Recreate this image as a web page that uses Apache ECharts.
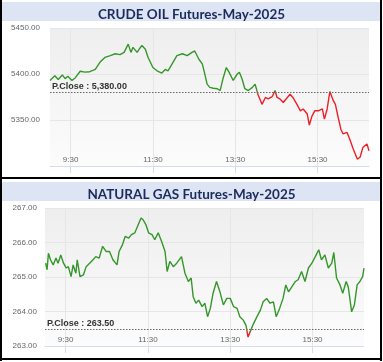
<!DOCTYPE html>
<html><head><meta charset="utf-8">
<script src="https://cdn.jsdelivr.net/npm/echarts@6/dist/echarts.min.js"></script>
<style>html,body{margin:0;padding:0;background:#fff}#c{width:383px;height:362px}</style>
</head><body><div id="c"></div><script>
// ---- data (x = minutes after 09:00) ----
const crudeTitle = 'CRUDE OIL Futures-May-2025';
const gasTitle = 'NATURAL GAS Futures-May-2025';
const crudeTimes = [0,7,12,18,22,26,32,37,44,51,58,66,73,80,88,95,102,108,114,118,121,127,130,134,139,143,150,156,163,168,172,178,185,193,200,207,211,217,222,225,229,233,238,244,248,252,257,261,267,273,276,280,284,289,295,299,303,309,314,318,324,328,331,335,340,346,350,354,360,365,369,375,378,382,386,391,397,400,404,408,413,416,420,424,427,433,437,442,448,452,456,462,465];
const crudeValues = [5393,5398,5394,5399,5395,5397.5,5393,5396,5403,5402,5402.5,5405,5413,5418,5420,5422,5421,5423.5,5432.5,5423.5,5429,5423.5,5427,5431,5427,5418,5407,5403.5,5401,5405,5403.5,5411,5420,5422,5420,5423.5,5425,5416,5411,5402,5389,5385.5,5384.5,5384,5382,5394.5,5407,5402,5393,5400,5402,5394.5,5384,5382,5385.5,5389,5378,5367,5374.5,5373,5375.5,5382,5374.5,5373,5369,5374.5,5378,5374.5,5367,5360,5362,5356.5,5344.5,5354.5,5360,5360,5362,5351,5362,5381,5371,5367,5353,5340,5335,5336.5,5329,5318.5,5307.5,5309.5,5320,5324,5316.5];
const gasTimes = [1,3,5,8,12,16,19,23,27,31,34,38,41,45,47,51,56,60,65,70,74,79,84,89,94,99,105,108,113,117,122,126,131,136,140,143,147,151,156,160,165,170,175,178,182,187,192,199,204,209,213,216,220,224,229,233,237,241,245,250,255,260,265,270,275,280,284,289,293,296,300,304,309,314,318,323,328,333,337,342,347,351,355,360,365,369,374,379,384,389,394,399,403,408,413,418,421,425,430,434,439,442,447,451,455,459,463,465];
const gasValues = [265.40,265.21,265.69,265.50,265.35,265.55,265.40,265.64,265.40,265.26,265.30,265.01,265.35,265.11,265.50,265.01,265.06,265.30,265.40,265.50,265.59,265.55,265.89,265.74,265.74,265.50,265.35,265.74,265.94,266.18,266.13,266.23,266.28,266.52,266.71,266.66,266.52,266.28,266.23,266.08,266.28,266.03,265.74,265.16,265.45,265.30,265.40,265.59,265.11,264.87,264.97,264.43,264.24,264.33,264.14,264.24,263.85,264.09,264.53,264.87,264.57,264.19,264.38,264.38,264.14,264.09,263.85,263.75,263.60,263.26,263.46,263.65,263.85,264.04,264.28,264.38,264.24,264.28,263.85,264.09,264.38,264.77,264.57,264.72,264.87,264.92,265.16,264.87,265.26,265.40,265.59,265.79,265.50,265.64,265.26,265.40,265.71,264.97,264.77,264.53,264.87,264.72,263.99,264.19,264.77,264.87,265.01,265.26];
const timeTickMinutes = [30,150,270,390];
const timeTickLabels = ['9:30','11:30','13:30','15:30'];
const crudePrevClose = 5380;
const gasPrevClose = 263.5;
const crudeAxis = {min:5300, max:5450, interval:50};
const gasAxis = {min:263, max:267, interval:1};

// ---- styles ----
const GREEN = '#35962a', RED = '#ec1f28';
const labelFont = '"Liberation Sans", Arial, sans-serif';
function pairs(xs, ys){ return xs.map((x,i)=>[x, ys[i]]); }
function fmtNum(v){ return v.toFixed(2).replace(/\B(?=(\d{3})+(?!\d))/g, ','); }
// colour split at the previous close, relative to the line's own bounding box
function splitColor(ys, pc){
  const hi = Math.max.apply(null, ys), lo = Math.min.apply(null, ys);
  const o = Math.min(1, Math.max(0, (hi - pc) / (hi - lo)));
  return new echarts.graphic.LinearGradient(0,0,0,1,[
    {offset:0,color:GREEN},{offset:o,color:GREEN},{offset:o,color:RED},{offset:1,color:RED}]);
}

const bgGrad = new echarts.graphic.LinearGradient(0,0,0,1,[{offset:0,color:'#eeeeee'},{offset:1,color:'#fcfcfc'}]);

function makeGrid(left, top){
  return {left:left, top:top, width:319, height:138, show:true, backgroundColor:bgGrad, borderWidth:0, outerBoundsMode:'none', containLabel:false};
}
function makeX(gi){
  return {
    type:'value', gridIndex:gi, min:0, max:465,
    axisLine:{show:true, lineStyle:{color:'#d5dde9', width:1}},
    axisTick:{show:true, customValues:timeTickMinutes, inside:false, length:7, lineStyle:{color:'#d5dde9'}},
    axisLabel:{customValues:timeTickMinutes, inside:true, margin:2, fontSize:8, color:'#666', fontFamily:labelFont,
      formatter:(v)=>{ const i = timeTickMinutes.indexOf(Math.round(v)); return i>=0 ? timeTickLabels[i] : ''; }},
    splitLine:{show:true, lineStyle:{color:'#e6e6e6', width:1}}
  };
}
function makeY(gi, ax, showMin){
  return {
    type:'value', gridIndex:gi, min:ax.min, max:ax.max, interval:ax.interval,
    axisLine:{show:false}, axisTick:{show:false},
    axisLabel:{fontSize:8, color:'#666', fontFamily:labelFont, margin: gi===0?10:8, showMinLabel:showMin,
      formatter:(v)=> (showMin || v!==ax.min) ? v.toFixed(2) : ''},
    splitLine:{show:true, lineStyle:{color:'#e6e6e6', width:1}}
  };
}
function makeSeries(gi, xs, ys, pc){
  return {
    type:'line', xAxisIndex:gi, yAxisIndex:gi, data:pairs(xs, ys), showSymbol:false, symbol:'none',
    lineStyle:{width:1.4, color:splitColor(ys, pc)}, itemStyle:{color:GREEN}, animation:false, z:3,
    markLine:{silent:true, symbol:'none', animation:false,
      lineStyle:{color:'#666', type:[1.5,1.5], width:1},
      label:{show:true, position:'insideStartTop', distance:[2,1], formatter:'P.Close : '+fmtNum(pc),
        fontSize:9, color:'#333', fontFamily:labelFont, fontWeight:'bold'},
      data:[{yAxis:pc}]}
  };
}

const titleStyle = {fontSize:13.5, fontWeight:'bold', color:'#1b2b5c', fontFamily:'Lato, "Open Sans", sans-serif'};
const chart = echarts.init(document.getElementById('c'), null, {renderer:'canvas'});
chart.setOption({
  animation:false,
  backgroundColor:'#ffffff',
  title:[
    {text:crudeTitle, left:'center', top:3, textStyle:titleStyle},
    {text:gasTitle, left:'center', top:183, textStyle:titleStyle}
  ],
  graphic:[
    {type:'rect', shape:{x:2, y:2, width:378, height:19}, style:{fill:'#dde4f4'}, z:-10, silent:true},
    {type:'rect', shape:{x:2, y:182, width:378, height:19}, style:{fill:'#dde4f4'}, z:-10, silent:true},
    {type:'rect', shape:{x:0, y:0, width:2, height:361}, style:{fill:'#000'}, silent:true},
    {type:'rect', shape:{x:380, y:0, width:2, height:361}, style:{fill:'#000'}, silent:true},
    {type:'rect', shape:{x:0, y:177, width:382, height:2}, style:{fill:'#000'}, silent:true},
    {type:'rect', shape:{x:0, y:358, width:382, height:2}, style:{fill:'#000'}, silent:true}
  ],
  grid:[makeGrid(50,28), makeGrid(45,208)],
  xAxis:[makeX(0), makeX(1)],
  yAxis:[makeY(0, crudeAxis, false), makeY(1, gasAxis, true)],
  series:[makeSeries(0, crudeTimes, crudeValues, crudePrevClose), makeSeries(1, gasTimes, gasValues, gasPrevClose)]
});
</script></body></html>
